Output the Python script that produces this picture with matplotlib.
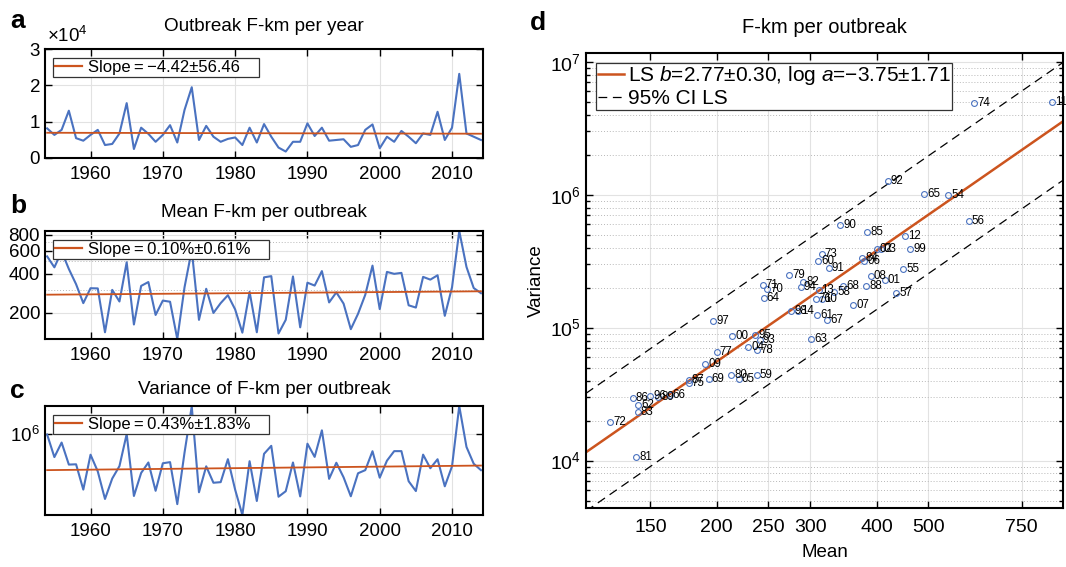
import numpy as np
import matplotlib
matplotlib.use('Agg')
import matplotlib.pyplot as plt
from matplotlib.ticker import FixedLocator, NullLocator, NullFormatter, LogLocator, LogFormatterMathtext, FixedFormatter

plt.rcParams['font.family'] = ['Liberation Sans', 'DejaVu Sans']
plt.rcParams['mathtext.fontset'] = 'custom'
plt.rcParams['mathtext.rm'] = 'Liberation Sans'
plt.rcParams['mathtext.it'] = 'Liberation Sans:italic'
plt.rcParams['xtick.direction'] = 'in'
plt.rcParams['ytick.direction'] = 'in'
plt.rcParams['axes.linewidth'] = 1.5

# ---- data ----
years = np.arange(1954, 2015)

# total outbreak F-km per year (units of 1e4)
fkm_year = [0.81, 0.63, 0.77, 1.30, 0.54, 0.47, 0.63, 0.77, 0.35, 0.38,
            0.67, 1.51, 0.24, 0.83, 0.66, 0.44, 0.63, 0.90, 0.42, 1.32,
            1.95, 0.49, 0.88, 0.58, 0.44, 0.52, 0.56, 0.35, 0.83, 0.42,
            0.93, 0.58, 0.28, 0.17, 0.44, 0.44, 0.95, 0.60, 0.83, 0.47,
            0.49, 0.51, 0.30, 0.35, 0.77, 0.92, 0.26, 0.58, 0.44, 0.74,
            0.58, 0.40, 0.67, 0.63, 1.27, 0.49, 0.83, 2.32, 0.67, 0.58, 0.49]

# mean F-km per outbreak
mean_fkm = [545, 449, 596, 436, 333, 238, 310, 309, 142, 301,
            245, 491, 163, 323, 346, 193, 249, 244, 126, 315,
            610, 177, 307, 200, 238, 274, 213, 141, 291, 142,
            376, 384, 139, 177, 382, 155, 342, 325, 420, 241,
            288, 236, 150, 197, 276, 463, 214, 414, 400, 407,
            229, 220, 379, 361, 390, 190, 315, 855, 452, 311, 284]

# variance of F-km per outbreak
var_fkm = [9.9e5, 2.78e5, 6.32e5, 1.82e5, 1.85e5, 4.43e4, 3.18e5, 1.24e5, 2.61e4, 8.26e4,
           1.67e5, 1.02e6, 3.09e4, 1.135e5, 2.05e5, 4.14e4, 1.96e5, 2.09e5, 1.95e4, 3.56e5,
           4.89e6, 3.81e4, 1.65e5, 6.52e4, 6.75e4, 2.47e5, 4.43e4, 1.055e4, 2.20e5, 2.33e4,
           3.34e5, 5.25e5, 2.96e4, 4.04e4, 2.05e5, 3.01e4, 5.92e5, 2.81e5, 1.26e6, 8.13e4,
           2.02e5, 8.86e4, 3.04e4, 1.115e5, 1.33e5, 3.87e5, 8.69e4, 2.27e5, 3.89e5, 3.89e5,
           7.11e4, 4.08e4, 3.19e5, 1.48e5, 2.46e5, 5.34e4, 1.65e5, 4.97e6, 4.93e5, 1.91e5, 1.33e5]

# trends
slope_a = -4.42          # F-km per year
slope_b = 0.0010         # fraction per year
slope_c = 0.0043
ls_b, ls_loga = 2.77, -3.75   # var = a * mean^b  (natural log)
ci_half = 1.02                # half-width of CI band, ln units

blue = '#4a72c0'
orange = '#cc541e'
grid_major = '#e2e2e2'
grid_minor = '#b8b8b8'

fig = plt.figure(figsize=(10.66, 5.67), dpi=100)


def style_ts(ax):
    ax.set_xlim(1953.7, 2014.3)
    ax.set_xticks([1960, 1970, 1980, 1990, 2000, 2010])
    ax.xaxis.set_minor_locator(NullLocator())
    ax.tick_params(which='both', top=True, right=True, labelsize=13.5, length=5, width=1)
    ax.tick_params(axis='x', pad=6)
    ax.grid(True, which='major', color=grid_major, lw=0.8)
    ax.set_axisbelow(True)


def add_legend(ax, label):
    # trailing space gives the roomy right margin of the original boxes
    leg = ax.legend([plt.Line2D([], [], color=orange, lw=1.6)], [label + '\u2003'],
                    loc='upper left', bbox_to_anchor=(0.018, 0.917), borderaxespad=0,
                    fontsize=12, handlelength=1.6, handletextpad=0.4, borderpad=0.12,
                    fancybox=False, framealpha=1, edgecolor='#333333')
    leg.get_frame().set_linewidth(0.9)


yrs = np.array(years)
mid = yrs.mean()

# ---- panel a ----
ax1 = fig.add_axes([0.0422, 0.7219, 0.411, 0.1912])
ax1.plot(years, fkm_year, color=blue, lw=1.5)
level = np.mean(fkm_year)
ax1.plot(yrs, level + slope_a / 1e4 * (yrs - mid), color=orange, lw=1.3)
style_ts(ax1)
ax1.set_ylim(0, 3)
ax1.set_yticks([0, 1, 2, 3])
ax1.set_title('Outbreak F-km per year', fontsize=13.6, pad=13.5)
ax1.text(0.005, 1.03, r'$\times10^4$', transform=ax1.transAxes, fontsize=13.5, ha='left', va='bottom')
add_legend(ax1, 'Slope\u2009=\u2009\u22124.42\u00b156.46')

# ---- panel b ----
ax2 = fig.add_axes([0.0422, 0.4021, 0.411, 0.1905])
ax2.plot(years, mean_fkm, color=blue, lw=1.5)
gm = np.exp(np.mean(np.log(mean_fkm)))
ax2.plot(yrs, gm * (1 + slope_b) ** (yrs - mid), color=orange, lw=1.3)
ax2.set_yscale('log')
style_ts(ax2)
ax2.set_ylim(min(mean_fkm), max(mean_fkm))
ax2.yaxis.set_major_locator(FixedLocator([200, 400, 600, 800]))
ax2.yaxis.set_major_formatter(FixedFormatter(['200', '400', '600', '800']))
ax2.yaxis.set_minor_locator(FixedLocator([300, 500, 700]))
ax2.yaxis.set_minor_formatter(NullFormatter())
ax2.tick_params(axis='y', which='minor', length=0)
ax2.grid(True, which='minor', axis='y', color=grid_minor, lw=0.7, ls=(0, (1, 2)))
ax2.set_title('Mean F-km per outbreak', fontsize=13.6, pad=10.3)
add_legend(ax2, 'Slope\u2009=\u20090.10%\u00b10.61%')

# ---- panel c ----
ax3 = fig.add_axes([0.0422, 0.0917, 0.411, 0.1922])
ax3.plot(years, var_fkm, color=blue, lw=1.5)
gv = np.exp(np.mean(np.log(var_fkm)))
ax3.plot(yrs, gv * (1 + slope_c) ** (yrs - mid), color=orange, lw=1.3)
ax3.set_yscale('log')
style_ts(ax3)
ax3.set_ylim(min(var_fkm), max(var_fkm))
ax3.yaxis.set_major_locator(FixedLocator([1e6]))
ax3.yaxis.set_major_formatter(LogFormatterMathtext())
ax3.yaxis.set_minor_locator(NullLocator())
ax3.set_title('Variance of F-km per outbreak', fontsize=13.6, pad=8.4)
add_legend(ax3, 'Slope\u2009=\u20090.43%\u00b11.83%')

# ---- panel d ----
ax4 = fig.add_axes([0.5497, 0.1041, 0.4475, 0.803])
ax4.set_xscale('log')
ax4.set_yscale('log')
xlo, xhi = 0.9 * min(mean_fkm), 1.05 * max(mean_fkm)
ax4.set_xlim(xlo, xhi)
ax4.set_ylim(4.4e3, 1.17e7)
xx = np.array([xlo, xhi])
center = np.exp(ls_loga + ls_b * np.log(xx))
ax4.plot(xx, center, color=orange, lw=1.8, label=r'LS $b$=2.77$\pm$0.30, log $a$=$-$3.75$\pm$1.71')
ax4.plot(xx, center * np.exp(ci_half), color='black', lw=0.9, ls=(0, (7, 4.5)), label='95% CI LS')
ax4.plot(xx, center * np.exp(-ci_half), color='black', lw=0.9, ls=(0, (7, 4.5)))
ax4.plot(mean_fkm, var_fkm, 'o', mfc='none', mec=blue, ms=4.2, mew=0.8)
for y, m, v in zip(years, mean_fkm, var_fkm):
    ax4.annotate('%02d' % (y % 100), xy=(m, v), xytext=(2.2, 0), textcoords='offset points',
                 fontsize=8.3, ha='left', va='center', annotation_clip=False)

xt = [150, 200, 250, 300, 400, 500, 750]
ax4.xaxis.set_major_locator(FixedLocator(xt))
ax4.xaxis.set_major_formatter(FixedFormatter([str(t) for t in xt]))
ax4.xaxis.set_minor_locator(NullLocator())
ax4.yaxis.set_major_locator(LogLocator(base=10))
ax4.yaxis.set_major_formatter(LogFormatterMathtext())
ax4.yaxis.set_minor_locator(LogLocator(base=10, subs=np.arange(2, 10)))
ax4.yaxis.set_minor_formatter(NullFormatter())
ax4.tick_params(which='both', top=True, right=True, labelsize=14, width=1)
ax4.tick_params(which='major', length=5)
ax4.tick_params(which='minor', length=3)
ax4.tick_params(axis='x', pad=8)
ax4.grid(True, which='major', color=grid_major, lw=0.8)
ax4.grid(True, which='minor', axis='y', color=grid_minor, lw=0.7, ls=(0, (1, 2)))
ax4.set_axisbelow(True)
ax4.set_title('F-km per outbreak', fontsize=14.5, pad=14)
ax4.set_xlabel('Mean', fontsize=13.5, labelpad=6)
ax4.set_ylabel('Variance', fontsize=13.5, labelpad=4)
leg = ax4.legend(loc='upper left', bbox_to_anchor=(0.021, 0.978), borderaxespad=0,
                 fontsize=15, handlelength=1.25, handletextpad=0.2, borderpad=0.08,
                 labelspacing=0.1, fancybox=False, framealpha=1, edgecolor='#333333')
leg.get_frame().set_linewidth(0.9)

# panel letters
for x, y, s in [(0.0094, 0.9506, 'a'), (0.0094, 0.6238, 'b'), (0.0094, 0.2975, 'c'), (0.497, 0.947, 'd')]:
    fig.text(x, y, s, fontsize=19, fontweight='bold', ha='left', va='baseline')

fig.savefig('out.png', dpi=100)
